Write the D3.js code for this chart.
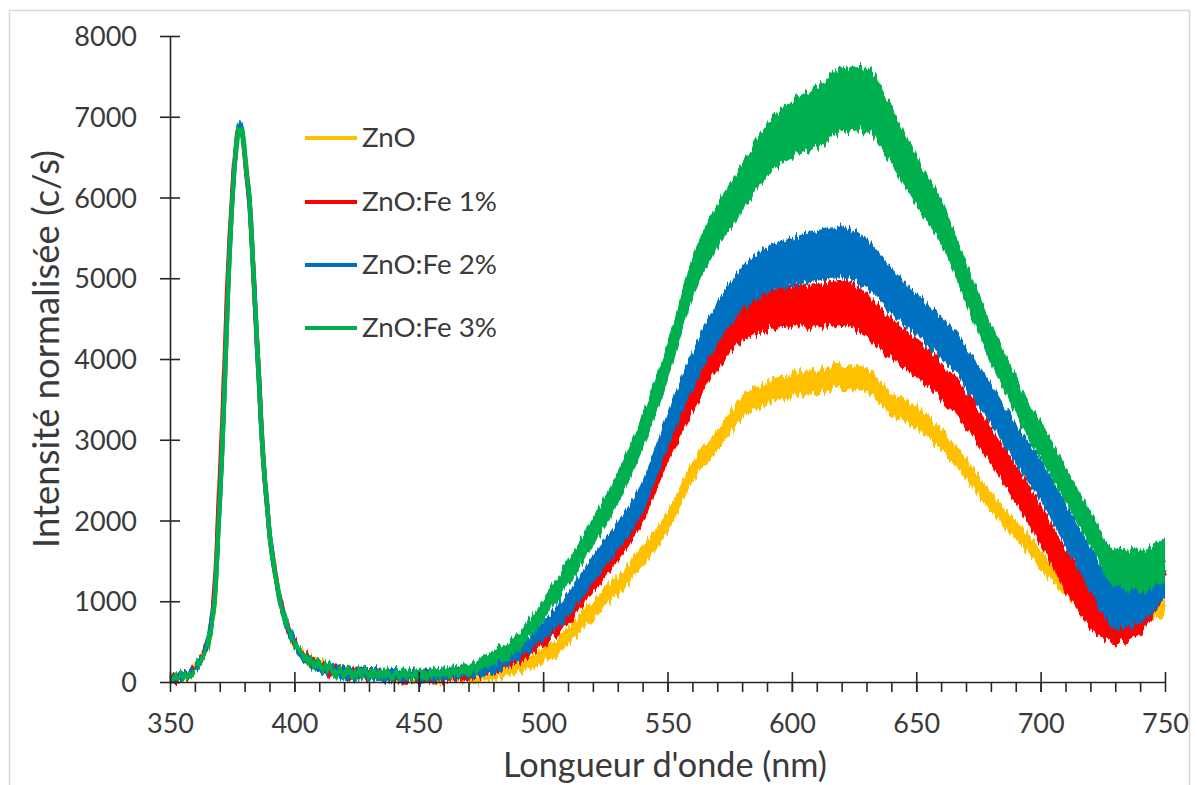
<!DOCTYPE html>
<html>
<head>
<meta charset="utf-8">
<script src="https://cdnjs.cloudflare.com/ajax/libs/d3/7.8.5/d3.min.js"></script>
<style>
  html, body { margin: 0; padding: 0; background: #fff; }
  svg { display: block; }
  text { font-family: Lato, "Open Sans", sans-serif; fill: #3a3a3a; }
</style>
</head>
<body>
<svg id="chart" width="1197" height="785"></svg>
<script>
// ---------- DATA ----------
const wavelengths = [350,355,358,360,362,364,366,367,368,369,370,371,372,373,374,375,376,377,378,379,380,381,382,383,384,385,386,387,388,389,390,392,394,396,398,400,403,406,410,415,
  420,430,440,450,460,470,480,490,500,510,520,530,540,550,560,570,580,590,600,610,620,630,640,650,660,670,680,690,700,710,720,730,740,750];

const uvPeak = [50,70,100,160,250,370,570,780,1050,1600,2250,2900,3700,4600,5350,5950,6400,6750,6880,6820,6550,6250,5950,5400,4800,4200,3600,3000,2550,2200,1850,1400,1050,800,620,480,350,260,190,140];
const uvPeakFe1 = [50,70,100,170,270,400,620,850,1200,1800,2500,3200,4000,4850,5500,6050,6450,6780,6880,6800,6520,6220,5920,5380,4780,4180,3590,2990,2540,2190,1840,1390,1040,790,610,470,340,250,180,130];
const uvNoise = [40,50,40,30,20,20,20,20,20,20,20,20,20,20,20,20,20,20,20,20,20,20,20,20,20,20,20,20,20,20,20,30,30,40,40,40,50,60,60,60];

const znoVisible = [110,80,60,45,35,40,90,190,330,560,900,1200,1560,1980,2600,3000,3380,3580,3680,3720,3780,3740,3460,3280,3000,2640,2230,1880,1530,1200,950,820,820,950];
const fe1Visible = [110,90,70,60,70,110,180,330,560,850,1250,1650,2150,2900,3550,4100,4450,4600,4650,4660,4700,4550,4250,4030,3730,3370,2930,2450,1950,1380,960,760,880,1350];
const fe2Visible = [110,90,80,70,80,120,210,380,640,960,1400,1800,2300,3100,3850,4450,4870,5100,5200,5280,5320,5180,4850,4550,4280,3900,3450,2950,2500,1950,1400,960,1050,1400];
const fe3Visible = [120,100,90,80,110,170,290,500,900,1350,1850,2400,3100,3950,5000,5650,6120,6600,6850,7000,7200,7220,6750,6200,5700,4950,4200,3550,2980,2450,1900,1420,1380,1500];

const znoNoise = [40,40,40,40,40,40,60,80,100,110,120,120,130,130,130,130,140,140,150,150,150,150,140,140,130,130,120,120,120,120,120,100,100,100];
const fe1Noise = [60,60,60,60,60,70,80,90,110,130,150,160,180,200,220,230,240,250,260,270,280,270,250,240,230,230,230,240,250,270,280,280,280,280];
const fe2Noise = [70,70,70,70,70,70,90,100,120,150,170,180,200,220,240,260,270,290,300,310,320,310,280,260,260,260,250,250,260,270,280,300,320,340];
const fe3Noise = [60,60,60,60,60,70,90,110,130,160,180,200,220,240,260,280,300,330,350,380,400,400,360,310,280,260,250,240,230,220,220,230,260,280];

const seriesNames = ["ZnO", "ZnO:Fe 1%", "ZnO:Fe 2%", "ZnO:Fe 3%"];
const seriesColors = ["#FFC000", "#FF0000", "#0070C0", "#00B050"];

const xTicks = [350,400,450,500,550,600,650,700,750];
const yTicks = [0,1000,2000,3000,4000,5000,6000,7000,8000];
const xTitle = "Longueur d'onde (nm)";
const yTitle = "Intensité normalisée (c/s)";

// ---------- build series ----------
const seriesValues = [
  uvPeak.concat(znoVisible),
  uvPeakFe1.concat(fe1Visible),
  uvPeak.concat(fe2Visible),
  uvPeak.concat(fe3Visible)
];
const seriesNoise = [
  uvNoise.concat(znoNoise),
  uvNoise.concat(fe1Noise),
  uvNoise.concat(fe2Noise),
  uvNoise.concat(fe3Noise)
];
const series = seriesNames.map((name, i) => ({
  name, color: seriesColors[i],
  points: wavelengths.map((w, j) => ({ x: w, v: seriesValues[i][j], n: seriesNoise[i][j] }))
}));

// ---------- layout ----------
const svg = d3.select("#chart");
const x = d3.scaleLinear().domain([350, 750]).range([170, 1165]);
const y = d3.scaleLinear().domain([0, 8000]).range([682, 36]);

// outer frame
svg.append("rect").attr("x", 9.5).attr("y", 10.5).attr("width", 1180).attr("height", 790)
  .attr("fill", "none").attr("stroke", "#d9d9d9").attr("stroke-width", 1.5);

// jagged-noise filters (visual texture only)
const defs = svg.append("defs");
series.forEach((s, i) => {
  const f = defs.append("filter").attr("id", "jag" + i)
    .attr("filterUnits", "userSpaceOnUse").attr("x", 150).attr("y", 0).attr("width", 1040).attr("height", 720);
  f.append("feTurbulence").attr("type", "fractalNoise").attr("baseFrequency", "0.45 0.004")
    .attr("numOctaves", 1).attr("seed", 3 + i * 7).attr("result", "t");
  f.append("feColorMatrix").attr("in", "t").attr("type", "matrix")
    .attr("values", "1 0 0 0 0  0 0 0 0 0.5  0 0 1 0 0  0 0 0 0 1").attr("result", "m");
  f.append("feDisplacementMap").attr("in", "SourceGraphic").attr("in2", "m")
    .attr("scale", 18).attr("xChannelSelector", "G").attr("yChannelSelector", "R");
});

// series
const area = d3.area().x(d => x(d.x)).y0(d => y(d.v - d.n)).y1(d => y(d.v + d.n)).curve(d3.curveMonotoneX);
const line = d3.line().x(d => x(d.x)).y(d => y(d.v)).curve(d3.curveMonotoneX);
const plot = svg.append("g");
series.forEach((s, i) => {
  const g = plot.append("g").attr("filter", `url(#jag${i})`);
  g.append("path").datum(s.points).attr("d", area).attr("fill", s.color);
  g.append("path").datum(s.points).attr("d", line).attr("fill", "none")
    .attr("stroke", s.color).attr("stroke-width", 4.5).attr("stroke-linejoin", "round");
});

// axes
const axisColor = "#262626";
const yAxis = svg.append("g").attr("transform", `translate(${x(350)},0)`)
  .call(d3.axisLeft(y).tickValues(yTicks).tickSize(10).tickSizeOuter(0).tickFormat(d3.format("d")));
yAxis.select(".domain").attr("stroke", axisColor).attr("stroke-width", 1.6);
yAxis.selectAll(".tick line").attr("x1", -10).attr("x2", 10).attr("stroke", axisColor).attr("stroke-width", 1.6);
yAxis.selectAll(".tick text").attr("x", -33).attr("dy", "0.36em")
  .style("font-size", "27px").style("font-family", "Lato, sans-serif").attr("fill", "#3a3a3a");

const xMinor = svg.append("g").attr("transform", `translate(0,${y(0)})`)
  .call(d3.axisBottom(x).tickValues(d3.range(360, 750, 10)).tickSize(10).tickFormat(""));
xMinor.select(".domain").remove();
xMinor.selectAll(".tick line").attr("stroke", axisColor).attr("stroke-width", 1.6);

const xAxis = svg.append("g").attr("transform", `translate(0,${y(0)})`)
  .call(d3.axisBottom(x).tickValues(xTicks).tickSize(10).tickSizeOuter(0));
xAxis.select(".domain").attr("stroke", axisColor).attr("stroke-width", 1.6);
xAxis.selectAll(".tick line").attr("y1", -10).attr("y2", 10).attr("stroke", axisColor).attr("stroke-width", 1.6);
xAxis.selectAll(".tick text").attr("y", 51).attr("dy", 0)
  .style("font-size", "27px").style("font-family", "Lato, sans-serif").attr("fill", "#3a3a3a");

// fit text helper
function fit(sel, w) {
  const cur = sel.node().getComputedTextLength();
  const fs = parseFloat(sel.style("font-size"));
  const nfs = fs * w / cur;
  sel.style("font-size", nfs.toFixed(2) + "px");
  return nfs;
}

// titles
const xt = svg.append("text").attr("x", 665).attr("y", 777).attr("text-anchor", "middle")
  .style("font-size", "32px").text(xTitle);
fit(xt, 324);
const yt = svg.append("text").attr("transform", "translate(59,349) rotate(-90)").attr("text-anchor", "middle")
  .style("font-size", "32px").text(yTitle);
fit(yt, 398);

// legend
const legendY = [138, 202, 265, 328];
const probe = svg.append("text").style("font-size", "25px").text(seriesNames[1]);
const legendFont = fit(probe, 135);
probe.remove();
series.forEach((s, i) => {
  svg.append("line").attr("x1", 305).attr("x2", 357).attr("y1", legendY[i]).attr("y2", legendY[i])
    .attr("stroke", s.color).attr("stroke-width", 4);
  svg.append("text").attr("x", 362).attr("y", legendY[i] + 9)
    .style("font-size", legendFont.toFixed(2) + "px").text(s.name);
});
</script>
</body>
</html>
